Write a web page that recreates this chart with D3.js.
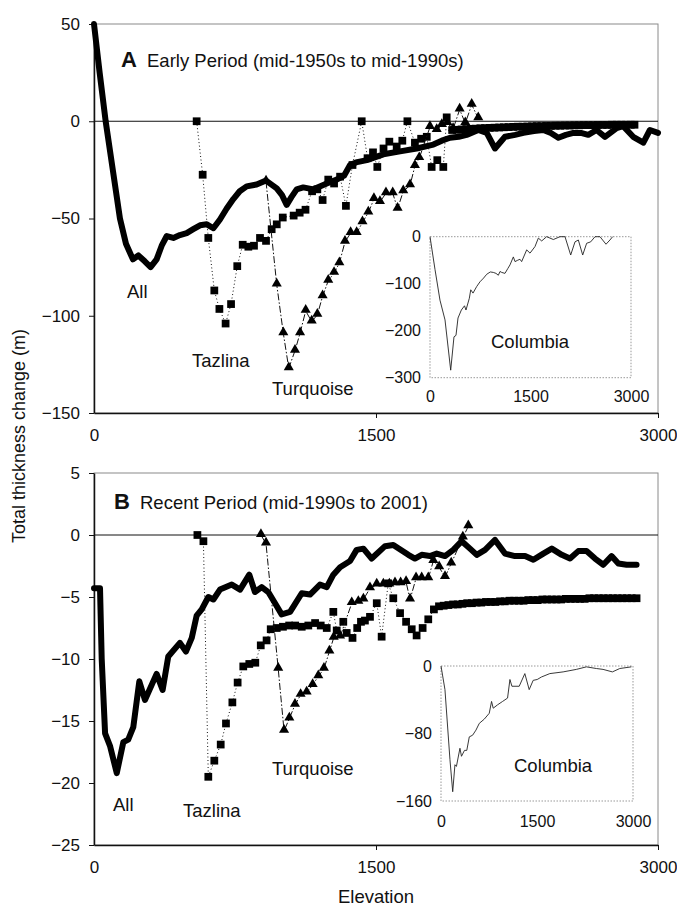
<!DOCTYPE html>
<html><head><meta charset="utf-8">
<script src="https://cdn.jsdelivr.net/npm/d3@7"></script>
<style>
body{margin:0;background:#fff;}
svg{display:block;font-family:Arial,"Liberation Sans",sans-serif;}
</style></head><body>
<svg id="chart" width="677" height="909"></svg>
<script>
// ---------- data ----------
const xTicks = [0, 1500, 3000];
const yTicksA = [50, 0, -50, -100, -150];
const yTicksB = [5, 0, -5, -10, -15, -20, -25];
const insetTicksA = [0, -100, -200, -300];
const insetTicksB = [0, -80, -160];
const panelLetters = ["A", "B"];
const panelTitles = ["Early Period (mid-1950s to mid-1990s)", "Recent Period (mid-1990s to 2001)"];
const seriesNames = ["All", "Tazlina", "Turquoise", "Columbia"];
const yAxisTitle = "Total thickness change (m)";
const xAxisTitle = "Elevation";

// [elevation, thickness change]
const allEarly = [[0,50],[30,25],[62,0],[100,-25],[138,-50],[170,-63],[207,-71],[236,-69],[270,-72],[301,-75],[333,-71],[360,-64],[387,-59],[422,-60],[457,-58.5],[493,-57.5],[528,-55.5],[564,-53.5],[600,-53],[635,-55],[670,-50.5],[705,-45],[741,-40],[775,-36],[812,-33.5],[865,-32.5],[915,-30.5],[972,-34.5],[1000,-38],[1025,-43],[1050,-39],[1078,-35],[1113,-34],[1167,-35],[1238,-32],[1291,-30],[1330,-28],[1362,-22.5],[1400,-21],[1451,-20],[1539,-17],[1628,-15.5],[1716,-14],[1805,-12],[1850,-10],[1894,-8.5],[1940,-8],[1982,-7],[2044,-4.5],[2089,-6],[2133,-14],[2186,-8],[2240,-7],[2284,-6],[2340,-5],[2390,-4.5],[2430,-6],[2470,-8.5],[2510,-7],[2550,-6],[2590,-6],[2629,-7],[2673,-4.5],[2718,-8],[2780,-3.5],[2815,-2.5],[2868,-8],[2922,-11],[2957,-4.5],[3000,-6]];
const tazlinaEarly = [[546,0],[578,-27.5],[608,-60],[640,-87],[667,-96.5],[700,-104],[729,-94],[762,-74.5],[791,-63.5],[821,-64.5],[851,-64],[883,-60],[915,-61.5],[945,-55.5],[972,-53],[1004,-49.5],[1062,-48.5],[1094,-47],[1125,-45.5],[1160,-36],[1188,-35],[1216,-40.5],[1246,-30],[1277,-32],[1309,-28.5],[1340,-43.5],[1375,-22.5],[1424,0],[1455,-19],[1484,-16],[1507,-23.5],[1540,-14],[1571,-10.5],[1610,-13],[1640,-10],[1667,0],[1707,-11],[1740,-9],[1770,-8],[1796,-23.5],[1826,-20],[1858,-23.5],[1876,2],[1905,-4.5],[1930,-4.4],[1955,-4.2],[1980,-4],[2005,-3.9],[2030,-3.8],[2055,-3.6],[2080,-3.5],[2105,-3.4],[2130,-3.3],[2155,-3.2],[2180,-3.1],[2205,-3],[2230,-2.9],[2255,-2.8],[2280,-2.8],[2305,-2.7],[2330,-2.6],[2355,-2.5],[2380,-2.5],[2405,-2.4],[2430,-2.4],[2455,-2.3],[2480,-2.3],[2505,-2.2],[2530,-2.2],[2555,-2.1],[2580,-2.1],[2605,-2],[2630,-2],[2655,-2],[2680,-1.9],[2705,-1.9],[2730,-1.9],[2755,-1.8],[2780,-1.8],[2805,-1.8],[2830,-1.8],[2855,-1.8],[2875,-1.8]];
const turquoiseEarly = [[915,-31],[972,-84],[1007,-109],[1036,-127],[1069,-118],[1096,-109],[1126,-97.5],[1158,-103],[1188,-99.5],[1216,-90],[1246,-82],[1277,-78],[1305,-73],[1335,-62],[1365,-57.5],[1397,-57.5],[1428,-52],[1459,-47],[1489,-40],[1521,-41.5],[1553,-37],[1589,-37],[1615,-45],[1645,-36],[1681,-33],[1707,-23],[1730,-19],[1787,-3],[1823,-4.5],[1850,-2],[1880,-1],[1910,-4],[1945,6],[1975,-1],[2009,8.5],[2044,1.5]];

const allRecent = [[0,-4.3],[32,-4.3],[41,-10],[59,-16],[85,-17],[121,-19.2],[156,-16.7],[182,-16.5],[209,-15.5],[241,-11.8],[271,-13.3],[333,-11.2],[365,-12.5],[395,-9.8],[457,-8.7],[489,-9.4],[520,-8.3],[546,-6.5],[573,-6],[608,-5],[635,-5.2],[670,-4.4],[733,-4],[777,-4.4],[826,-3.2],[856,-4.6],[892,-4.2],[927,-4.6],[963,-5.5],[998,-6.4],[1043,-6.2],[1105,-4.7],[1149,-4.8],[1202,-4],[1238,-4.2],[1273,-3.2],[1309,-2.6],[1362,-2.1],[1397,-1.2],[1433,-1.1],[1477,-1.9],[1548,-0.9],[1592,-0.8],[1672,-1.6],[1707,-1.9],[1743,-1.6],[1787,-1.7],[1823,-1.5],[1867,-1.7],[1911,-1.2],[1956,-0.5],[2000,-1.1],[2036,-1.6],[2080,-1.2],[2133,-0.4],[2186,-1.5],[2239,-1.7],[2293,-1.7],[2337,-2],[2390,-1.5],[2435,-1.1],[2488,-1.6],[2532,-1.9],[2576,-1.3],[2620,-1.3],[2665,-1.9],[2709,-2.4],[2753,-1.7],[2789,-2.3],[2833,-2.4],[2886,-2.4]];
const tazlinaRecent = [[550,0],[582,-0.5],[608,-19.5],[640,-18.2],[674,-16.9],[702,-15.2],[736,-13.5],[764,-11.9],[794,-10.6],[826,-10.4],[858,-10.3],[887,-8.9],[918,-8.5],[940,-7.6],[972,-7.5],[1005,-7.4],[1038,-7.3],[1070,-7.3],[1105,-7.4],[1140,-7.3],[1176,-7.1],[1206,-7.3],[1238,-7.5],[1273,-6.2],[1291,-7.7],[1326,-7],[1344,-7.9],[1375,-8.3],[1400,-7.5],[1420,-7],[1441,-6.9],[1468,-6.6],[1504,-5.5],[1530,-8.2],[1565,-3.9],[1592,-5.1],[1628,-6.3],[1660,-7],[1690,-7.6],[1716,-8.1],[1748,-7.5],[1778,-6.8],[1808,-6],[1835,-5.75],[1860,-5.7],[1885,-5.65],[1910,-5.6],[1935,-5.6],[1960,-5.55],[1985,-5.5],[2010,-5.5],[2035,-5.45],[2060,-5.45],[2085,-5.4],[2110,-5.4],[2135,-5.4],[2160,-5.35],[2185,-5.35],[2210,-5.3],[2235,-5.3],[2260,-5.3],[2285,-5.3],[2310,-5.25],[2335,-5.25],[2360,-5.25],[2385,-5.2],[2410,-5.2],[2435,-5.2],[2460,-5.2],[2485,-5.2],[2510,-5.15],[2535,-5.15],[2560,-5.15],[2585,-5.15],[2610,-5.15],[2635,-5.1],[2660,-5.1],[2685,-5.1],[2710,-5.1],[2735,-5.1],[2760,-5.1],[2785,-5.1],[2810,-5.1],[2835,-5.1],[2860,-5.1],[2886,-5.1]];
const turquoiseRecent = [[888,0],[915,-0.7],[980,-10.8],[1011,-15.8],[1039,-14.8],[1069,-13.7],[1099,-12.9],[1131,-12.7],[1163,-12.1],[1193,-11.4],[1223,-10.8],[1252,-9.4],[1275,-8.3],[1309,-8.2],[1371,-5.5],[1406,-5.4],[1433,-5.2],[1468,-4.3],[1504,-4],[1539,-4],[1571,-4],[1601,-3.9],[1631,-3.9],[1660,-3.8],[1681,-5.2],[1713,-3.5],[1743,-3.5],[1778,-3.5],[1805,-2.1],[1836,-2.6],[1867,-3.4],[1900,-2.3],[1962,-0.2],[1991,0.7]];

const columbiaEarly = [[0,0],[75,-70],[149,-135],[224,-177],[309,-284],[358,-213],[388,-210],[418,-173],[468,-156],[515,-147],[537,-156],[587,-131],[608,-113],[642,-120],[697,-106],[746,-96],[800,-88],[846,-80],[900,-75],[945,-76],[985,-78],[1020,-82],[1045,-74],[1070,-76],[1119,-78],[1160,-68],[1194,-60],[1244,-43],[1269,-53],[1310,-50],[1343,-48],[1368,-53],[1443,-28],[1493,-35],[1567,-21],[1617,-3],[1667,-9],[1741,0],[1841,-6],[1940,0],[2015,0],[2100,-39],[2164,-11],[2214,-7],[2279,-39],[2338,-14],[2398,-11],[2463,0],[2537,0],[2627,-16],[2686,-7],[2726,0]];
const columbiaRecent = [[0,0],[62,-28],[140,-111],[183,-149],[218,-117],[241,-119],[296,-97.5],[320,-107],[367,-100],[403,-100],[442,-84],[494,-82],[546,-76],[598,-68],[676,-63],[754,-56],[790,-42],[816,-50],[884,-46],[962,-42],[1040,-38],[1077,-16],[1108,-24],[1222,-24],[1310,-9],[1378,-28],[1440,-17],[1503,-16],[1570,-13],[1700,-9],[1908,-7],[2116,-4],[2272,-1],[2428,-3],[2532,-4],[2678,-7],[2793,-3],[2975,-1]];

// ---------- drawing ----------
const svg = d3.select("#chart");
const FONT = 'Arial,"Liberation Sans",sans-serif';
const fmt = d3.format("d");

const panels = [
  {letter: panelLetters[0], title: panelTitles[0], yDomain: [-150, 50], yRange: [413, 24], yTicks: yTicksA,
   all: allEarly, taz: tazlinaEarly, tur: turquoiseEarly,
   titleX: 121, titleTextX: 147, titleY: 67,
   labels: [{t: seriesNames[0], x: 127, y: 298}, {t: seriesNames[1], x: 192, y: 367}, {t: seriesNames[2], x: 272, y: 395}],
   inset: {data: columbiaEarly, x: [430, 631], y: [377.7, 236.7], dom: [-300, 0], ticks: insetTicksA, lx: 491, ly: 348, xpad: 13}},
  {letter: panelLetters[1], title: panelTitles[1], yDomain: [-25, 5], yRange: [845, 473], yTicks: yTicksB,
   all: allRecent, taz: tazlinaRecent, tur: turquoiseRecent,
   titleX: 114, titleTextX: 140, titleY: 509,
   labels: [{t: seriesNames[0], x: 113, y: 811}, {t: seriesNames[1], x: 183, y: 817}, {t: seriesNames[2], x: 272, y: 775}],
   inset: {data: columbiaRecent, x: [441, 633], y: [801, 666], dom: [-160, 0], ticks: insetTicksB, lx: 514, ly: 772, xpad: 15}}
];

const x = d3.scaleLinear().domain([0, 3000]).range([94, 658]);

panels.forEach(p => {
  const y = d3.scaleLinear().domain(p.yDomain).range(p.yRange);
  const g = svg.append("g");
  const [yb, yt] = p.yRange;

  // frame (top/right grey)
  g.append("rect").attr("x", x(0)).attr("y", yt).attr("width", x(3000) - x(0)).attr("height", yb - yt)
    .attr("fill", "none").attr("stroke", "#8a8a8a").attr("stroke-width", 1);

  // zero line
  g.append("line").attr("x1", x(0)).attr("x2", x(3000)).attr("y1", y(0)).attr("y2", y(0))
    .attr("stroke", "#111").attr("stroke-width", 1);

  // axes
  const ya = g.append("g").attr("transform", `translate(${x(0)},0)`)
    .call(d3.axisLeft(y).tickValues(p.yTicks).tickFormat(fmt).tickSize(5).tickSizeOuter(0).tickPadding(9));
  const xa = g.append("g").attr("transform", `translate(0,${yb})`)
    .call(d3.axisBottom(x).tickValues(xTicks).tickFormat(fmt).tickSize(5).tickSizeOuter(0).tickPadding(11));
  [ya, xa].forEach(a => {
    a.select(".domain").attr("stroke", "#111").attr("stroke-width", 1.5);
    a.selectAll(".tick line").attr("stroke", "#111");
    a.selectAll("text").attr("font-size", 17).attr("font-family", FONT).attr("fill", "#111");
  });
  xa.selectAll(".tick").filter(d => d === 0).select("line").remove();

  // Tazlina: dotted + squares
  const line = d3.line().x(d => x(d[0])).y(d => y(d[1]));
  g.append("path").datum(p.taz).attr("d", line).attr("fill", "none")
    .attr("stroke", "#111").attr("stroke-width", 1).attr("stroke-dasharray", "1,2.5");
  g.append("g").selectAll("path").data(p.taz).join("path")
    .attr("d", d3.symbol(d3.symbolSquare, 60))
    .attr("transform", d => `translate(${x(d[0])},${y(d[1])})`).attr("fill", "#000");

  // Turquoise: dash-dot + triangles
  g.append("path").datum(p.tur).attr("d", line).attr("fill", "none")
    .attr("stroke", "#111").attr("stroke-width", 1).attr("stroke-dasharray", "7,2,1.5,2");
  g.append("g").selectAll("path").data(p.tur).join("path")
    .attr("d", d3.symbol(d3.symbolTriangle, 44))
    .attr("transform", d => `translate(${x(d[0])},${y(d[1]) - 1})`).attr("fill", "#000");

  // All: thick line
  g.append("path").datum(p.all).attr("d", line).attr("fill", "none")
    .attr("stroke", "#000").attr("stroke-width", 6).attr("stroke-linejoin", "round").attr("stroke-linecap", "round");

  // panel title
  g.append("text").attr("x", p.titleX).attr("y", p.titleY).attr("font-size", 22).attr("font-weight", "bold")
    .attr("font-family", FONT).attr("fill", "#111").text(p.letter);
  g.append("text").attr("x", p.titleTextX).attr("y", p.titleY).attr("font-size", 18.5)
    .attr("font-family", FONT).attr("fill", "#111").text(p.title);

  p.labels.forEach(l => g.append("text").attr("x", l.x).attr("y", l.y).attr("font-size", 18.5)
    .attr("font-family", FONT).attr("fill", "#111").text(l.t));

  // inset
  const ins = p.inset;
  const ix = d3.scaleLinear().domain([0, 3000]).range(ins.x);
  const iy = d3.scaleLinear().domain(ins.dom).range(ins.y);
  const ig = g.append("g");
  ig.append("rect").attr("x", ins.x[0]).attr("y", ins.y[1]).attr("width", ins.x[1] - ins.x[0])
    .attr("height", ins.y[0] - ins.y[1]).attr("fill", "#fff").attr("stroke", "#999")
    .attr("stroke-width", 1).attr("stroke-dasharray", "1.5,1.5");
  const iya = ig.append("g").attr("transform", `translate(${ins.x[0]},0)`)
    .call(d3.axisLeft(iy).tickValues(ins.ticks).tickFormat(fmt).tickSize(0).tickPadding(9));
  const ixa = ig.append("g").attr("transform", `translate(0,${ins.y[0]})`)
    .call(d3.axisBottom(ix).tickValues(xTicks).tickFormat(fmt).tickSize(0).tickPadding(ins.xpad));
  [iya, ixa].forEach(a => {
    a.select(".domain").remove();
    a.selectAll("text").attr("font-size", 16).attr("font-family", FONT).attr("fill", "#111");
  });
  const iline = d3.line().x(d => ix(d[0])).y(d => iy(d[1]));
  ig.append("path").datum(ins.data).attr("d", iline).attr("fill", "none")
    .attr("stroke", "#222").attr("stroke-width", 0.9);
  ig.append("text").attr("x", ins.lx).attr("y", ins.ly).attr("font-size", 18.5)
    .attr("font-family", FONT).attr("fill", "#111").text(seriesNames[3]);
});

// axis titles
svg.append("text").attr("transform", "translate(25,436) rotate(-90)").attr("text-anchor", "middle")
  .attr("font-size", 18).attr("font-family", FONT).attr("fill", "#111").text(yAxisTitle);
svg.append("text").attr("x", 376).attr("y", 903).attr("text-anchor", "middle")
  .attr("font-size", 18.5).attr("font-family", FONT).attr("fill", "#111").text(xAxisTitle);
</script>
</body></html>
